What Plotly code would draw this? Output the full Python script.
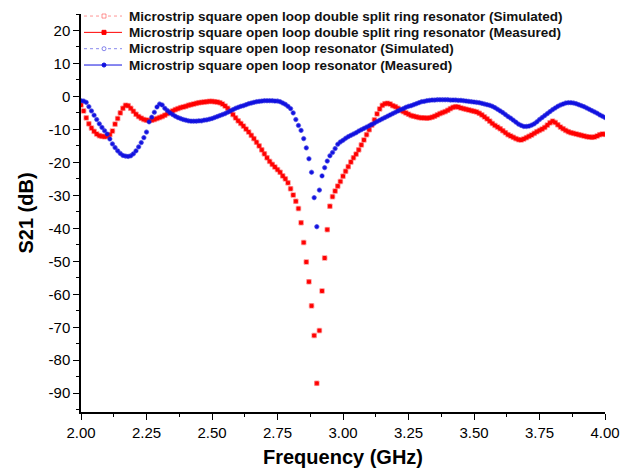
import numpy as np
import plotly.graph_objs as go

# frequency sweep, 2-4 GHz in 10 MHz steps
freq = np.round(np.linspace(2.0, 4.0, 201), 2)

# S21 (dB) of the double split ring resonator
s21_dsrr = [
    -2.6, -4.4, -6.5, -8.3, -9.6, -10.6, -11.4, -11.9, -12.1, -12.2,
    -12.1, -11.6, -10.5, -8.4, -6.7, -5.0, -3.6, -2.7, -2.8, -3.6,
    -4.5, -5.4, -6.1, -6.6, -7.0, -7.2, -7.3, -7.2, -7.0, -6.7,
    -6.4, -6.1, -5.7, -5.2, -4.8, -4.4, -4.0, -3.7, -3.4, -3.2,
    -3.0, -2.7, -2.5, -2.3, -2.1, -1.9, -1.8, -1.7, -1.6, -1.5,
    -1.5, -1.6, -1.7, -1.9, -2.3, -2.9, -3.6, -4.5, -5.5, -6.5,
    -7.4, -8.2, -9.0, -9.9, -10.8, -11.8, -12.8, -13.9, -15.0, -16.2,
    -17.4, -18.6, -19.7, -20.6, -21.4, -22.2, -23.0, -24.1, -25.0, -26.2,
    -28.0, -29.9, -31.8, -34.0, -38.3, -44.3, -50.2, -56.2, -63.5, -72.5,
    -87.0, -71.0, -59.0, -49.0, -40.4, -33.3, -30.4, -28.7, -27.2, -25.8,
    -24.2, -22.7, -21.3, -19.9, -18.6, -17.5, -16.2, -14.7, -13.2, -11.6,
    -10.1, -8.7, -7.1, -5.3, -3.8, -2.7, -2.2, -2.1, -2.3, -2.8,
    -3.1, -3.6, -4.2, -4.6, -5.0, -5.4, -5.8, -6.0, -6.2, -6.4,
    -6.5, -6.5, -6.6, -6.5, -6.3, -6.0, -5.6, -5.2, -4.9, -4.6,
    -4.2, -3.7, -3.3, -3.1, -3.2, -3.5, -3.7, -3.9, -4.1, -4.3,
    -4.5, -4.7, -5.1, -5.6, -6.2, -6.8, -7.5, -8.2, -8.8, -9.3,
    -9.8, -10.4, -11.0, -11.6, -12.0, -12.4, -12.8, -13.1, -13.2, -12.9,
    -12.5, -12.1, -11.7, -11.2, -10.7, -10.3, -9.9, -9.4, -8.7, -8.0,
    -7.5, -7.9, -8.6, -9.3, -9.8, -10.3, -10.7, -11.0, -11.2, -11.4,
    -11.6, -11.8, -12.0, -12.2, -12.3, -12.4, -12.3, -12.0, -11.6, -11.4,
    -11.5,
]

# S21 (dB) of the plain open loop resonator
s21_solr = [
    -1.3, -1.4, -1.8, -3.1, -4.4, -5.7, -7.0, -8.3, -9.4, -10.4,
    -11.4, -12.9, -14.4, -15.5, -16.5, -17.3, -17.9, -18.1, -18.2, -18.0,
    -17.4, -16.5, -15.3, -14.0, -12.5, -10.8, -7.7, -6.3, -4.8, -3.2,
    -2.3, -2.6, -3.6, -4.3, -5.0, -5.5, -6.0, -6.4, -6.7, -7.0,
    -7.2, -7.4, -7.5, -7.5, -7.5, -7.4, -7.4, -7.2, -7.1, -6.9,
    -6.7, -6.4, -6.1, -5.8, -5.5, -5.2, -4.8, -4.4, -4.0, -3.6,
    -3.3, -3.0, -2.8, -2.5, -2.2, -2.0, -1.8, -1.6, -1.5, -1.4,
    -1.3, -1.3, -1.3, -1.3, -1.4, -1.4, -1.6, -2.0, -2.4, -3.0,
    -3.7, -5.0, -7.0, -8.8, -10.3, -12.8, -15.6, -18.9, -23.0, -30.7,
    -39.5, -28.4, -24.1, -21.6, -19.6, -18.0, -17.0, -15.8, -14.5, -13.8,
    -13.3, -12.7, -12.2, -11.8, -11.4, -11.0, -10.5, -10.1, -9.7, -9.3,
    -8.9, -8.5, -8.1, -7.6, -7.2, -6.8, -6.4, -6.0, -5.6, -5.2,
    -4.8, -4.4, -4.0, -3.7, -3.3, -3.0, -2.8, -2.5, -2.2, -1.9,
    -1.6, -1.5, -1.3, -1.2, -1.1, -1.1, -1.0, -1.0, -1.0, -1.0,
    -1.0, -1.1, -1.1, -1.1, -1.2, -1.2, -1.3, -1.4, -1.5, -1.6,
    -1.7, -1.8, -1.9, -2.1, -2.3, -2.5, -2.7, -3.0, -3.4, -3.9,
    -4.4, -4.9, -5.5, -6.1, -6.6, -7.2, -7.8, -8.4, -8.8, -9.1,
    -9.1, -9.0, -8.7, -8.3, -7.7, -7.0, -6.4, -5.8, -5.2, -4.6,
    -4.0, -3.5, -3.0, -2.6, -2.3, -2.0, -1.9, -1.9, -2.0, -2.2,
    -2.5, -2.8, -3.1, -3.5, -3.9, -4.3, -4.7, -5.1, -5.6, -6.0,
    -6.4,
]

names = [
    'Microstrip square open loop double split ring resonator (Simulated)',
    'Microstrip square open loop double split ring resonator (Measured)',
    'Microstrip square open loop resonator (Simulated)',
    'Microstrip square open loop resonator (Measured)',
]

y_ticks = list(range(-90, 30, 10))
y_ticktext = [str(v) for v in y_ticks]

RED = '#ff0000'
RED_LIGHT = 'rgba(255,60,60,0.55)'
BLUE = '#1010e0'
BLUE_LIGHT = 'rgba(40,40,220,0.55)'
FONT = 'Liberation Sans, Arial, sans-serif'

series = [
    (s21_dsrr, names[0], RED_LIGHT, 'square-open', 4.5, 'dot'),
    (s21_dsrr, names[1], RED, 'square', 3, 'solid'),
    (s21_solr, names[2], BLUE_LIGHT, 'circle-open', 4.5, 'dot'),
    (s21_solr, names[3], BLUE, 'circle', 3.2, 'solid'),
]

fig = go.Figure()

# the data itself: markers only
for vals, name, color, symbol, size, dash in series:
    fig.add_trace(go.Scatter(x=freq, y=vals, mode='markers', name=name,
        marker=dict(symbol=symbol, size=size, color=color,
                    line=dict(width=1, color=color)),
        showlegend=False))

# hand-made legend (Origin style: tight rows, line + symbol sample)
# plot area on the page: x 81..605 px, y 14..404 px
def px_x(p):
    return (p - 81) / 524.0

def px_y(p):
    return (404 - p) / 390.0

shapes = []
annotations = []
for i, (vals, name, color, symbol, size, dash) in enumerate(series):
    row = 16 + 16 * i
    shapes.append(dict(type='line', xref='paper', yref='paper',
                       x0=px_x(84), x1=px_x(122), y0=px_y(row), y1=px_y(row),
                       line=dict(color=color, width=1, dash=dash)))
    kind = 'rect' if 'square' in symbol else 'circle'
    filled = not symbol.endswith('open')
    shapes.append(dict(type=kind, xref='paper', yref='paper',
                       x0=px_x(102), x1=px_x(106), y0=px_y(row + 2), y1=px_y(row - 2),
                       line=dict(color=color, width=1),
                       fillcolor=color if filled else 'white'))
    annotations.append(dict(xref='paper', yref='paper', x=px_x(127), y=px_y(row),
                            xanchor='left', yanchor='middle', showarrow=False,
                            text=name,
                            font=dict(family=FONT, size=13.5, color='#111111', weight='bold')))

tick_font = dict(family=FONT, size=15, color='black')

# the page body has an 8 px margin, so the figure is 8 px smaller than the window
fig.update_layout(
    width=622, height=460,
    margin=dict(l=73, r=25, t=6, b=56),
    paper_bgcolor='white', plot_bgcolor='white',
    font=dict(family=FONT, color='black'),
    showlegend=False,
    shapes=shapes,
    annotations=annotations,
)

fig.update_xaxes(
    range=[2.0, 4.0], dtick=0.25, tick0=2.0, tickformat='.2f',
    showline=True, linecolor='black', linewidth=1.5, mirror=False,
    showgrid=False, zeroline=False, automargin=False,
    ticks='outside', ticklen=6, tickcolor='black', tickwidth=1,
    minor=dict(dtick=0.125, ticks='outside', ticklen=3, tickcolor='black'),
    tickfont=tick_font,
    title=dict(text='<b>Frequency (GHz)</b>', font=dict(size=20, family=FONT),
               standoff=10),
)

fig.update_yaxes(
    range=[-95.7, 25], tickvals=y_ticks, ticktext=y_ticktext,
    showline=True, linecolor='black', linewidth=1.5, mirror=False,
    showgrid=False, zeroline=False, automargin=False,
    ticks='outside', ticklen=6, tickcolor='black', tickwidth=1,
    minor=dict(tickvals=list(range(-95, 30, 10)), ticks='outside', ticklen=3, tickcolor='black'),
    tickfont=tick_font,
    title=dict(text='<b>S21 (dB)</b>', font=dict(size=20, family=FONT),
               standoff=10),
)

fig.write_html('out.html')
